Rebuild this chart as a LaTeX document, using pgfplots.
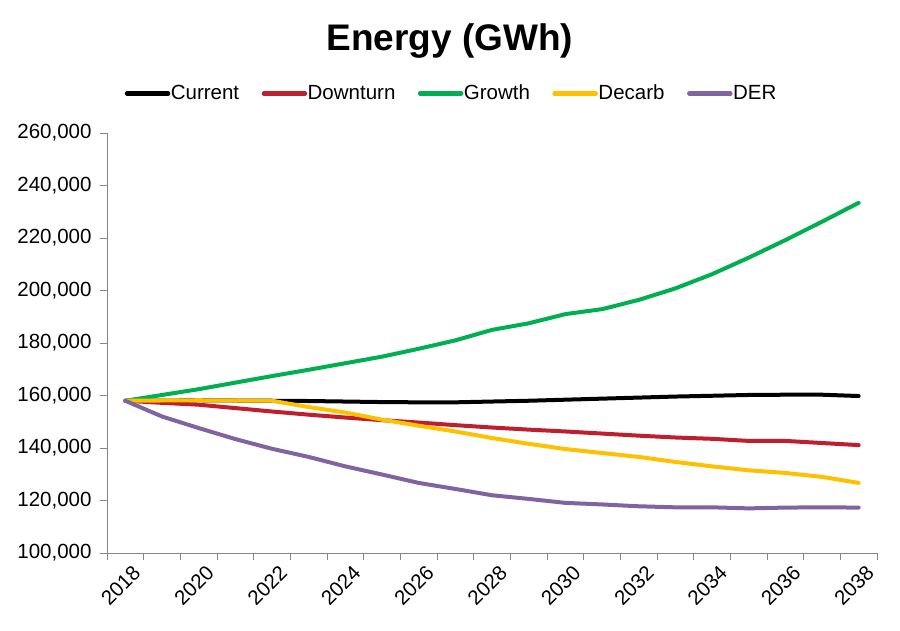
\documentclass[border=0pt]{standalone}
\usepackage{pgfplots}
\pgfplotsset{compat=1.18}
\usepackage{fontspec}
\setmainfont{Liberation Sans}

\definecolor{cCurrent}{RGB}{0,0,0}
\definecolor{cDown}{RGB}{190,30,45}
\definecolor{cGrowth}{RGB}{0,176,80}
\definecolor{cDecarb}{RGB}{255,192,0}
\definecolor{cDER}{RGB}{128,100,162}
\definecolor{axgray}{RGB}{134,134,134}

% tick labels: size set in text mode
\newcommand\tl[1]{\mbox{\fontsize{20.5}{24}\selectfont #1}}

\begin{document}
\begin{tikzpicture}
\useasboundingbox (0pt,0pt) rectangle (900pt,630pt);
\begin{axis}[
	at={(107pt,77pt)}, anchor=south west,
	scale only axis,
	width=770pt, height=420pt,
	xmin=2017.5, xmax=2038.5,
	ymin=100000, ymax=260000,
	ytick={100000,120000,...,260000},
	yticklabels={\tl{100,000},\tl{120,000},\tl{140,000},\tl{160,000},\tl{180,000},\tl{200,000},\tl{220,000},\tl{240,000},\tl{260,000}},
	xtick={2018,2020,...,2038},
	xticklabels={\tl{2018},\tl{2020},\tl{2022},\tl{2024},\tl{2026},\tl{2028},\tl{2030},\tl{2032},\tl{2034},\tl{2036},\tl{2038}},
	minor xtick={2017.5,2018.5,...,2038.5},
	major x tick style={draw=none},
	axis lines*=left,
	axis line style={axgray, line width=0.8pt},
	tick style={axgray, line width=0.8pt},
	tick align=outside,
	major tick length=7pt,
	minor tick length=7pt,
	scaled y ticks=false,
	y tick label style={xshift=-5pt},
	x tick label style={rotate=45, anchor=north east, xshift=5pt, yshift=-4pt},
	title={Energy (GWh)},
	title style={at={(0.445,1.205)}, anchor=center, font=\bfseries\fontsize{37}{40}\selectfont},
	legend style={at={(0.019,1.094)}, anchor=west, draw=none, fill=none,
		font=\fontsize{20.5}{24}\selectfont, legend columns=-1,
		/tikz/every even column/.append style={column sep=22pt},
		nodes={inner sep=0.5pt, text height=15pt, text depth=4pt}},
	legend image code/.code={\draw[#1, line width=4.5pt] (0pt,0pt) -- (41pt,0pt);},
	every axis plot/.append style={line width=4pt, line join=round, line cap=round},
	clip=false,
]
\addplot[cCurrent] coordinates {
(2018,158000) (2019,158000) (2020,158200) (2021,158100) (2022,158000) (2023,157900)
(2024,157700) (2025,157500) (2026,157400) (2027,157400) (2028,157700) (2029,158000)
(2030,158400) (2031,158800) (2032,159200) (2033,159600) (2034,159900) (2035,160200)
(2036,160300) (2037,160300) (2038,159800)};
\addplot[cDown] coordinates {
(2018,158000) (2019,157200) (2020,156500) (2021,155200) (2022,153900) (2023,152700)
(2024,151600) (2025,150600) (2026,149700) (2027,148700) (2028,147800) (2029,147000)
(2030,146300) (2031,145500) (2032,144700) (2033,144000) (2034,143500) (2035,142700)
(2036,142700) (2037,141900) (2038,141100)};
\addplot[cGrowth] coordinates {
(2018,158000) (2019,160200) (2020,162400) (2021,164900) (2022,167400) (2023,169800)
(2024,172300) (2025,174800) (2026,177800) (2027,181000) (2028,185000) (2029,187500)
(2030,191000) (2031,192900) (2032,196400) (2033,200800) (2034,206200) (2035,212500)
(2036,219200) (2037,226200) (2038,233400)};
\addplot[cDecarb] coordinates {
(2018,158000) (2019,158100) (2020,158200) (2021,158100) (2022,158000) (2023,155600)
(2024,153500) (2025,150800) (2026,148500) (2027,146300) (2028,143800) (2029,141600)
(2030,139600) (2031,138100) (2032,136600) (2033,134700) (2034,133000) (2035,131500)
(2036,130500) (2037,129000) (2038,126700)};
\addplot[cDER] coordinates {
(2018,158000) (2019,152000) (2020,147600) (2021,143400) (2022,139700) (2023,136600)
(2024,133000) (2025,129900) (2026,126700) (2027,124400) (2028,122000) (2029,120600)
(2030,119100) (2031,118500) (2032,117800) (2033,117400) (2034,117400) (2035,117000)
(2036,117300) (2037,117400) (2038,117300)};
\legend{Current,Downturn,Growth,Decarb,DER}
\end{axis}
\end{tikzpicture}
\end{document}
